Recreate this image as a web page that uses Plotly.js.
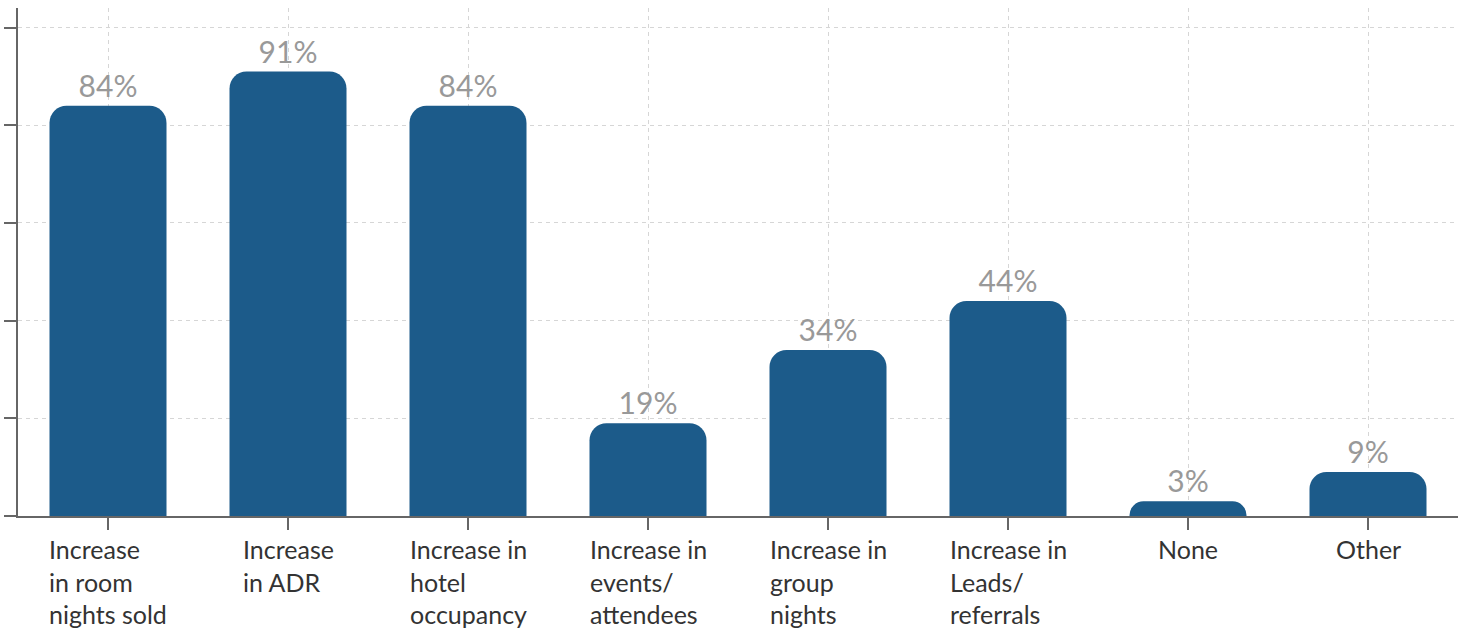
<!DOCTYPE html>
<html>
<head>
<meta charset="utf-8">
<script src="https://cdn.plot.ly/plotly-3.0.1.min.js"></script>
<style>html,body{margin:0;padding:0;background:#fff;}#chart{width:1463px;height:629px;}</style>
</head>
<body>
<div id="chart"></div>
<script>
const categories = [
  "Increase<br>in room<br>nights sold",
  "Increase<br>in ADR",
  "Increase in<br>hotel<br>occupancy",
  "Increase in<br>events/<br>attendees",
  "Increase in<br>group<br>nights",
  "Increase in<br>Leads/<br>referrals",
  "None",
  "Other"
];
const values = [84, 91, 84, 19, 34, 44, 3, 9];
const yTickVals = [0, 20, 40, 60, 80, 100];

const trace = {
  type: "bar",
  x: categories,
  y: values,
  marker: { color: "#1c5b8a", cornerradius: 17 },
  texttemplate: "%{y}%",
  textposition: "outside",
  textfont: { family: "Lato", size: 30, color: "#999999" },
  cliponaxis: false,
  hoverinfo: "skip"
};

const annotations = categories.map(c => ({
  x: c, xref: "x",
  y: 0, yref: "paper",
  yanchor: "top", xanchor: "center",
  yshift: -16,
  align: "left",
  showarrow: false,
  text: c,
  font: { family: "Lato", size: 25, color: "#333333" }
}));

const layout = {
  width: 1463, height: 629,
  margin: { l: 18, r: 5, t: 8, b: 113 },
  paper_bgcolor: "#ffffff",
  plot_bgcolor: "#ffffff",
  bargap: 0.35,
  showlegend: false,
  font: { family: "Lato" },
  xaxis: {
    type: "category",
    showline: true, linecolor: "#666666", linewidth: 2,
    ticks: "outside", ticklen: 12, tickwidth: 2, tickcolor: "#666666",
    showticklabels: false,
    showgrid: true, gridcolor: "#d6d6d6", gridwidth: 1, griddash: "4px,4px",
    zeroline: false
  },
  yaxis: {
    range: [0, 104],
    tickvals: yTickVals,
    showticklabels: false,
    showline: true, linecolor: "#666666", linewidth: 2,
    ticks: "outside", ticklen: 12, tickwidth: 2, tickcolor: "#666666",
    showgrid: true, gridcolor: "#d6d6d6", gridwidth: 1, griddash: "4px,4px",
    zeroline: false
  },
  annotations: annotations
};

Plotly.newPlot("chart", [trace], layout, { displayModeBar: false, staticPlot: true });
</script>
</body>
</html>
